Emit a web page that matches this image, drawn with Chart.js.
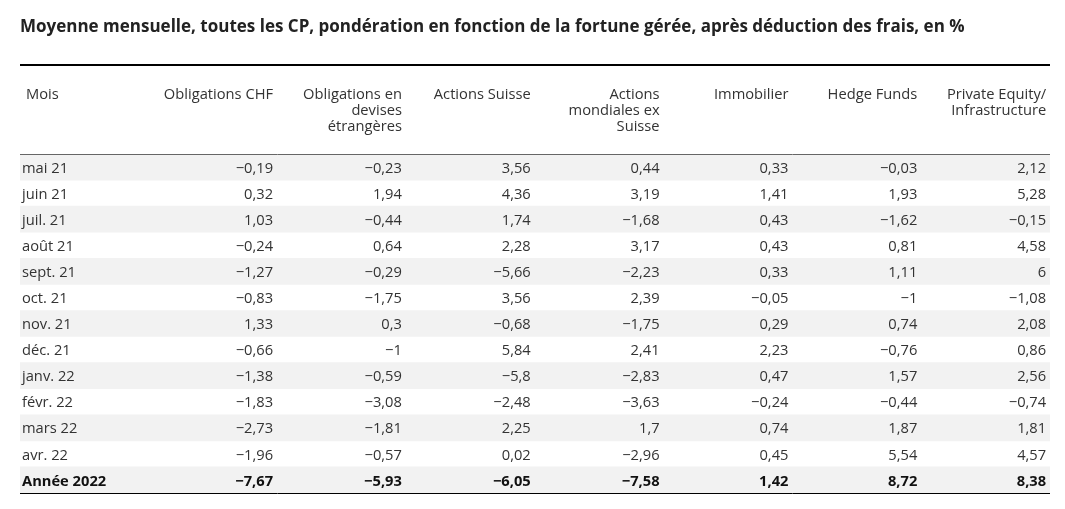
<!DOCTYPE html>
<html>
<head>
<meta charset="utf-8">
<script src="https://cdn.jsdelivr.net/npm/chart.js@4"></script>
<style>
  body { margin: 0; background: #fff; }
  #wrap { width: 1065px; height: 509px; }
</style>
</head>
<body>
<div id="wrap"><canvas id="myChart"></canvas></div>
<script>
const titre = 'Moyenne mensuelle, toutes les CP, pondération en fonction de la fortune gérée, après déduction des frais, en %';
const colonnes = [
  ['Obligations CHF'],
  ['Obligations en', 'devises', 'étrangères'],
  ['Actions Suisse'],
  ['Actions', 'mondiales ex', 'Suisse'],
  ['Immobilier'],
  ['Hedge Funds'],
  ['Private Equity/', 'Infrastructure']
];
const mois = ['mai 21', 'juin 21', 'juil. 21', 'août 21', 'sept. 21', 'oct. 21', 'nov. 21',
  'déc. 21', 'janv. 22', 'févr. 22', 'mars 22', 'avr. 22', 'Année 2022'];
const obligationsCHF = [-0.19, 0.32, 1.03, -0.24, -1.27, -0.83, 1.33, -0.66, -1.38, -1.83, -2.73, -1.96, -7.67];
const obligationsDevises = [-0.23, 1.94, -0.44, 0.64, -0.29, -1.75, 0.3, -1, -0.59, -3.08, -1.81, -0.57, -5.93];
const actionsSuisse = [3.56, 4.36, 1.74, 2.28, -5.66, 3.56, -0.68, 5.84, -5.8, -2.48, 2.25, 0.02, -6.05];
const actionsMonde = [0.44, 3.19, -1.68, 3.17, -2.23, 2.39, -1.75, 2.41, -2.83, -3.63, 1.7, -2.96, -7.58];
const immobilier = [0.33, 1.41, 0.43, 0.43, 0.33, -0.05, 0.29, 2.23, 0.47, -0.24, 0.74, 0.45, 1.42];
const hedgeFunds = [-0.03, 1.93, -1.62, 0.81, 1.11, -1, 0.74, -0.76, 1.57, -0.44, 1.87, 5.54, 8.72];
const privateEquity = [2.12, 5.28, -0.15, 4.58, 6, -1.08, 2.08, 0.86, 2.56, -0.74, 1.81, 4.57, 8.38];
const series = [obligationsCHF, obligationsDevises, actionsSuisse, actionsMonde, immobilier, hedgeFunds, privateEquity];

const xMin = -0.964, xMax = 7.03;
const police = '"Open Sans", sans-serif';
const fmt = v => String(v).replace('.', ',').replace('-', '\u2212');

// bandes grises une ligne sur deux
const bandes = mois.map((m, i) => i % 2 === 0 ? [xMin, xMax] : null);

const tableau = {
  id: 'tableau',
  afterDatasetsDraw(chart) {
    const { ctx, chartArea: a, scales: { x, y } } = chart;
    ctx.save();
    ctx.fillStyle = '#222';
    ctx.font = 'bold 17px ' + police;
    ctx.textBaseline = 'middle';
    ctx.textAlign = 'left';
    ctx.fillText(titre, 20, 27);

    // filets
    ctx.strokeStyle = '#000';
    ctx.lineWidth = 2;
    ctx.beginPath(); ctx.moveTo(a.left, 65); ctx.lineTo(a.right, 65); ctx.stroke();
    ctx.lineWidth = 1;
    ctx.strokeStyle = '#666';
    ctx.beginPath(); ctx.moveTo(a.left, a.top + 0.5); ctx.lineTo(a.right, a.top + 0.5); ctx.stroke();
    ctx.strokeStyle = '#000';
    ctx.beginPath(); ctx.moveTo(a.left, a.bottom + 0.5); ctx.lineTo(a.right, a.bottom + 0.5); ctx.stroke();

    // en-tête
    ctx.font = '14.7px ' + police;
    ctx.fillStyle = '#333';
    ctx.textBaseline = 'top';
    ctx.fillText('Mois', a.left + 6, 87);
    ctx.textAlign = 'right';
    colonnes.forEach((lignes, c) => {
      lignes.forEach((t, k) => ctx.fillText(t, x.getPixelForValue(c + 1), 87 + k * 16));
    });

    // corps
    ctx.textBaseline = 'middle';
    mois.forEach((m, r) => {
      const py = y.getPixelForValue(r) + 1.5;
      ctx.font = (r === mois.length - 1 ? 'bold ' : '') + '14.7px ' + police;
      ctx.fillStyle = r === mois.length - 1 ? '#111' : '#333';
      ctx.textAlign = 'left';
      ctx.fillText(m, a.left + 2, py);
      ctx.textAlign = 'right';
      series.forEach((s, c) => ctx.fillText(fmt(s[r]), x.getPixelForValue(c + 1), py));
    });
    ctx.restore();
  }
};

new Chart(document.getElementById('myChart'), {
  type: 'bar',
  data: {
    labels: mois,
    datasets: [{
      data: bandes,
      backgroundColor: '#f2f2f2',
      barPercentage: 1,
      categoryPercentage: 1,
      borderWidth: 0
    }]
  },
  options: {
    indexAxis: 'y',
    responsive: true,
    maintainAspectRatio: false,
    animation: false,
    layout: { padding: { top: 154, left: 20, right: 15, bottom: 16 } },
    plugins: { legend: { display: false }, tooltip: { enabled: false } },
    scales: {
      x: { type: 'linear', min: xMin, max: xMax, display: false },
      y: { display: false }
    }
  },
  plugins: [tableau]
});
</script>
</body>
</html>
